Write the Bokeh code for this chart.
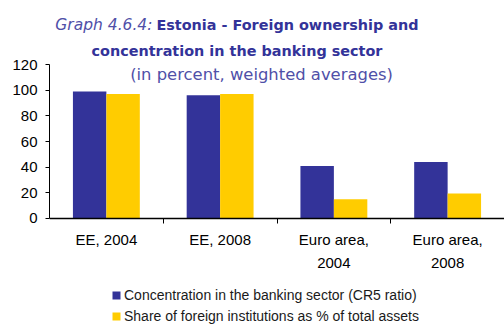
from bokeh.plotting import figure
from bokeh.models import (Range1d, LinearAxis, FixedTicker,
                          Legend, LegendItem, Label, ColumnDataSource)
from bokeh.transform import dodge
from bokeh.embed import file_html
from bokeh.resources import INLINE

# ---- data ----
categories = ["EE, 2004", "EE, 2008", "Euro area,\n2004", "Euro area,\n2008"]
concentration = [99, 96, 41, 44]
foreign_share = [97, 97, 15, 19.5]
y_ticks = [0, 20, 40, 60, 80, 100, 120]
series_names = ["Concentration in the banking sector (CR5 ratio)",
                "Share of foreign institutions as % of total assets"]
title_italic = "Graph 4.6.4:"
title_bold_1 = "Estonia - Foreign ownership and"
title_bold_2 = "concentration in the banking sector"
subtitle = "(in percent, weighted averages)"

BLUE = "#333399"
YELLOW = "#FFCC00"
TITLE_BLUE = "#333399"
SUB_BLUE = "#5050a8"

n = len(categories)
centers = [i + 0.5 for i in range(n)]          # category centres on the numeric axis
boundaries = [i for i in range(1, n)]           # tick marks between categories

src = ColumnDataSource(dict(x=centers, conc=concentration, share=foreign_share))

p = figure(x_range=Range1d(0, n), y_range=Range1d(-83.4, 169.9),
           width=504, height=325, output_backend="svg", toolbar_location=None,
           x_axis_location=None, min_border_left=49, min_border_top=0,
           min_border_right=0, min_border_bottom=0)
p.outline_line_color = None
p.grid.visible = False
p.background_fill_color = "white"
p.border_fill_color = "white"

# y axis
ya = p.yaxis[0]
ya.ticker = FixedTicker(ticks=y_ticks)
ya.bounds = (0, 120)
ya.major_tick_in = 0
ya.major_tick_out = 4
ya.minor_tick_out = 0
ya.minor_tick_in = 0
ya.axis_line_color = "black"
ya.major_tick_line_color = "black"
ya.major_label_text_font = "Liberation Sans"
ya.major_label_text_font_size = "15px"
ya.major_label_text_color = "black"
ya.major_label_standoff = 8

# category axis at y=0: labels at centres, ticks (minor) at boundaries
ca = LinearAxis(ticker=FixedTicker(ticks=centers, minor_ticks=boundaries),
                fixed_location=0,
                major_label_overrides={c: lab for c, lab in zip(centers, categories)},
                major_tick_in=0, major_tick_out=0, minor_tick_in=0, minor_tick_out=5,
                axis_line_color="black", axis_line_width=1.5,
                major_tick_line_color=None, minor_tick_line_color="black",
                minor_tick_line_width=1,
                major_label_standoff=8,
                major_label_text_font="Liberation Sans",
                major_label_text_font_size="15px",
                major_label_text_color="black",
                major_label_text_line_height=1.3)
p.add_layout(ca, "below")

r1 = p.vbar(x=dodge("x", -0.147), top="conc", width=0.294,
            source=src, fill_color=BLUE, line_color=None)
r2 = p.vbar(x=dodge("x", 0.147), top="share", width=0.294,
            source=src, fill_color=YELLOW, line_color=None)

legend = Legend(items=[LegendItem(label=series_names[0], renderers=[r1]),
                       LegendItem(label=series_names[1], renderers=[r2])],
                location=(62, 0), orientation="vertical",
                glyph_width=10, glyph_height=10, label_height=18, spacing=3,
                label_standoff=3, padding=0, margin=0,
                border_line_color=None, background_fill_alpha=0,
                label_text_font="Liberation Sans", label_text_font_size="14px",
                label_text_color="#1a1a1a")
p.add_layout(legend, "center")

# titles
p.add_layout(Label(x=0.905, y=150.8, text=title_italic,
                   text_align="right", text_baseline="alphabetic", text_font="DejaVu Sans",
                   text_font_style="italic", text_font_size="15.5px", text_color=SUB_BLUE))
p.add_layout(Label(x=0.94, y=150.8, text=title_bold_1,
                   text_align="left", text_baseline="alphabetic", text_font="DejaVu Sans",
                   text_font_style="bold", text_font_size="14.4px", text_color=TITLE_BLUE))
p.add_layout(Label(x=1.648, y=130.9, text=title_bold_2,
                   text_align="center", text_baseline="alphabetic", text_font="DejaVu Sans",
                   text_font_style="bold", text_font_size="14.4px", text_color=TITLE_BLUE))
p.add_layout(Label(x=1.864, y=112.6, text=subtitle,
                   text_align="center", text_baseline="alphabetic", text_font="DejaVu Sans",
                   text_font_size="16.4px", text_color=SUB_BLUE))

open("out.html", "w").write(file_html(p, INLINE))
